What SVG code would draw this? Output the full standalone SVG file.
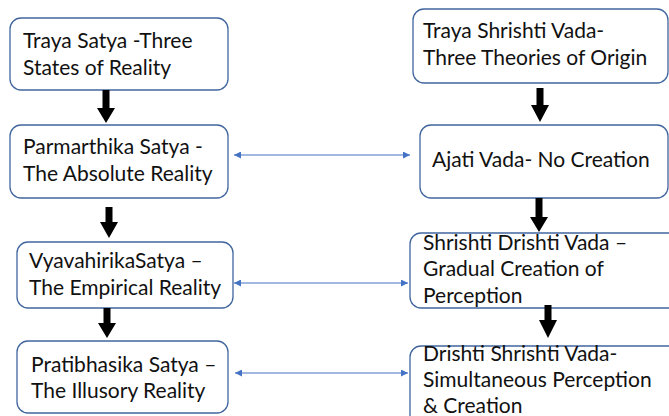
<svg xmlns="http://www.w3.org/2000/svg" width="669" height="416" viewBox="0 0 669 416">
  <defs>
    <style>
      .box { fill: #ffffff; stroke: #41669e; stroke-width: 1.3; }
      .lbl { font-family: Lato, "Open Sans", sans-serif; font-size: 21px; fill: #111111; }
      .flow { fill: #000000; }
      .link { stroke: #4472c4; stroke-width: 1.2; fill: none; marker-start: url(#tipStart); marker-end: url(#tipEnd); }
    </style>
    <marker id="tipEnd" viewBox="0 0 10 10" refX="10" refY="5" markerWidth="8" markerHeight="7" markerUnits="userSpaceOnUse" orient="auto">
      <path d="M0,0 L10,5 L0,10 Z" fill="#4472c4"/>
    </marker>
    <marker id="tipStart" viewBox="0 0 10 10" refX="0" refY="5" markerWidth="8" markerHeight="7" markerUnits="userSpaceOnUse" orient="auto">
      <path d="M10,0 L0,5 L10,10 Z" fill="#4472c4"/>
    </marker>
  </defs>
  <rect width="669" height="416" fill="#ffffff"/>

  <!-- left column: the three states of reality -->
  <g id="traya-satya">
    <rect class="box" x="10" y="18" width="218" height="72" rx="11"/>
    <text class="lbl" x="23" y="48">Traya Satya -Three</text>
    <text class="lbl" x="23" y="75">States of Reality</text>
  </g>
  <g id="parmarthika">
    <rect class="box" x="10" y="125" width="218" height="73" rx="11"/>
    <text class="lbl" x="23" y="154">Parmarthika Satya -</text>
    <text class="lbl" x="23" y="181">The Absolute Reality</text>
  </g>
  <g id="vyavahirika">
    <rect class="box" x="17" y="242" width="216" height="66" rx="11"/>
    <text class="lbl" x="29" y="268">VyavahirikaSatya –</text>
    <text class="lbl" x="29" y="295">The Empirical Reality</text>
  </g>
  <g id="pratibhasika">
    <rect class="box" x="17" y="341" width="211" height="72" rx="11"/>
    <text class="lbl" x="31" y="372">Pratibhasika Satya –</text>
    <text class="lbl" x="31" y="398">The Illusory Reality</text>
  </g>

  <!-- right column: the three theories of origin -->
  <g id="traya-shrishti">
    <rect class="box" x="413" y="9" width="255" height="74" rx="11"/>
    <text class="lbl" x="423" y="38">Traya Shrishti Vada-</text>
    <text class="lbl" x="423" y="65">Three Theories of Origin</text>
  </g>
  <g id="ajati">
    <rect class="box" x="420" y="125" width="248" height="73" rx="11"/>
    <text class="lbl" x="432" y="167">Ajati Vada- No Creation</text>
  </g>
  <g id="shrishti-drishti">
    <rect class="box" x="410" y="233" width="270" height="75" rx="11"/>
    <text class="lbl" x="423" y="250">Shrishti Drishti Vada –</text>
    <text class="lbl" x="423" y="276">Gradual Creation of</text>
    <text class="lbl" x="423" y="303">Perception</text>
  </g>
  <g id="drishti-shrishti">
    <rect class="box" x="410" y="346" width="270" height="80" rx="11"/>
    <text class="lbl" x="423" y="361">Drishti Shrishti Vada-</text>
    <text class="lbl" x="423" y="387">Simultaneous Perception</text>
    <text class="lbl" x="423" y="413">&amp; Creation</text>
  </g>

  <!-- connectors: block arrows down each column, links across -->
  <g id="connectors">
    <polygon class="flow" points="102.5,90 109.5,90 109.5,108 115,108 106,123 97,108 102.5,108"/>
    <polygon class="flow" points="105.5,207 112.5,207 112.5,222 118,222 109,238 100,222 105.5,222"/>
    <polygon class="flow" points="103.5,308 110.5,308 110.5,323 116,323 107,338 98,323 103.5,323"/>
    <polygon class="flow" points="536.5,88 543.5,88 543.5,105 549,105 540,122 531,105 536.5,105"/>
    <polygon class="flow" points="535.5,198 542.5,198 542.5,217 548,217 539,232 530,217 535.5,217"/>
    <polygon class="flow" points="544.5,305 551.5,305 551.5,320 557,320 548,338 539,320 544.5,320"/>
    <line class="link" x1="234" y1="155" x2="410" y2="155"/>
    <line class="link" x1="234" y1="283" x2="408" y2="283"/>
    <line class="link" x1="235" y1="373" x2="408" y2="373"/>
  </g>
</svg>
